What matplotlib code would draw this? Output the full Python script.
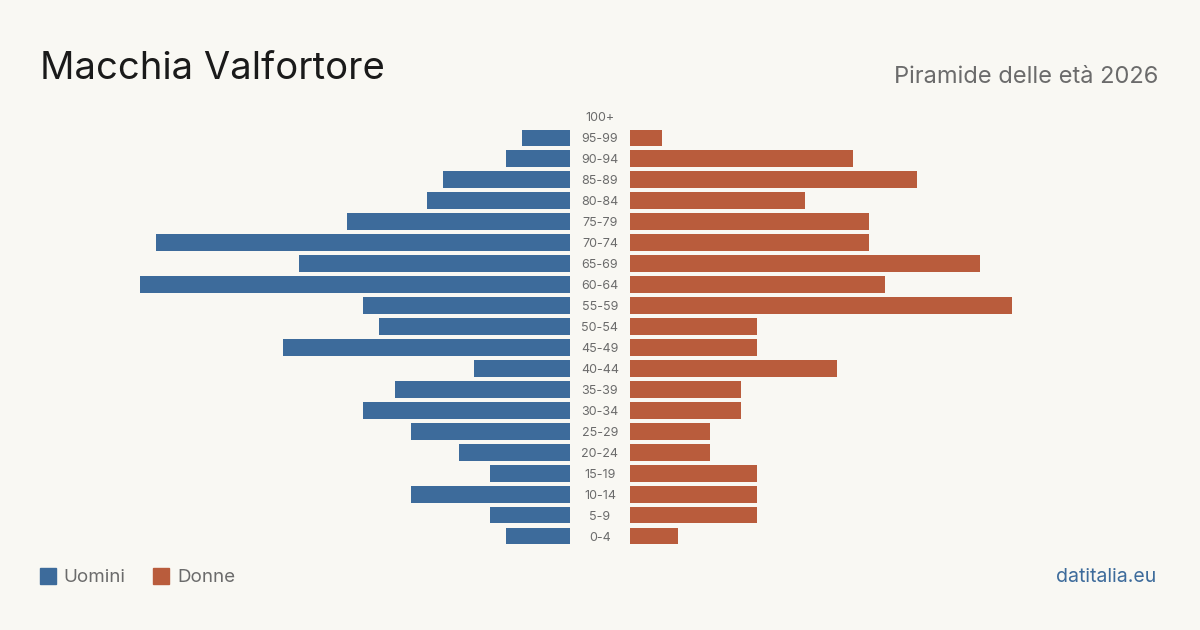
import matplotlib.pyplot as plt

# Age classes, from oldest to youngest (top to bottom)
age_labels = ["100+", "95-99", "90-94", "85-89", "80-84", "75-79", "70-74",
              "65-69", "60-64", "55-59", "50-54", "45-49", "40-44", "35-39",
              "30-34", "25-29", "20-24", "15-19", "10-14", "5-9", "0-4"]
uomini = [0, 3, 4, 8, 9, 14, 26, 17, 27, 13, 12, 18, 6, 11, 13, 10, 7, 5, 10, 5, 4]
donne = [0, 2, 14, 18, 11, 15, 15, 22, 16, 24, 8, 8, 13, 7, 7, 5, 5, 8, 8, 8, 3]

bg = "#f9f8f3"
blu = "#3d6b9b"
rosso = "#b95c3c"
grigio = "#6b6b6b"

plt.rcParams['font.family'] = ['Inter', 'DejaVu Sans']

fig = plt.figure(figsize=(12, 6.3), dpi=100, facecolor=bg)
W, H = 1200, 630
scale = 430 / 27  # pixels per person
n = len(age_labels)
top_px, bot_px = 106.5, 546.5
ax_b = 1 - bot_px / H
ax_h = (bot_px - top_px) / H

axl = fig.add_axes([(570 - 27 * scale) / W, ax_b, 27 * scale / W, ax_h])
axr = fig.add_axes([630 / W, ax_b, 27 * scale / W, ax_h])

ypos = list(range(n - 1, -1, -1))
axl.barh(ypos, uomini, height=0.8, color=blu)
axr.barh(ypos, donne, height=0.8, color=rosso)
axl.set_xlim(27, 0)
axr.set_xlim(0, 27)
for ax in (axl, axr):
    ax.set_ylim(-0.5, n - 0.5)
    ax.axis('off')
    ax.set_facecolor(bg)

for y, lab in zip(ypos, age_labels):
    fig.text(600 / W, ax_b + (y + 0.5) / n * ax_h - 1.5 / H, lab, ha='center', va='center',
             fontsize=9, color=grigio)

fig.text(40 / W, 1 - 69 / H, "Macchia Valfortore", fontsize=27.5, color="#1a1a1a",
         ha='left', va='center')
fig.text(1158 / W, 1 - 77 / H, "Piramide delle età 2026", fontsize=17, color=grigio,
         ha='right', va='center')

# legend
fig.patches.append(plt.Rectangle((40 / W, 1 - 584 / H), 16 / W, 16 / H,
                                 transform=fig.transFigure, color=blu))
fig.text(63 / W, 1 - 577.5 / H, "Uomini", fontsize=13.5, color=grigio, va='center')
fig.patches.append(plt.Rectangle((153 / W, 1 - 584 / H), 16 / W, 16 / H,
                                 transform=fig.transFigure, color=rosso))
fig.text(177 / W, 1 - 577.5 / H, "Donne", fontsize=13.5, color=grigio, va='center')

fig.text(1156 / W, 1 - 577.5 / H, "datitalia.eu", fontsize=14, color=blu,
         ha='right', va='center')

fig.savefig("out.png", dpi=100, facecolor=bg)
